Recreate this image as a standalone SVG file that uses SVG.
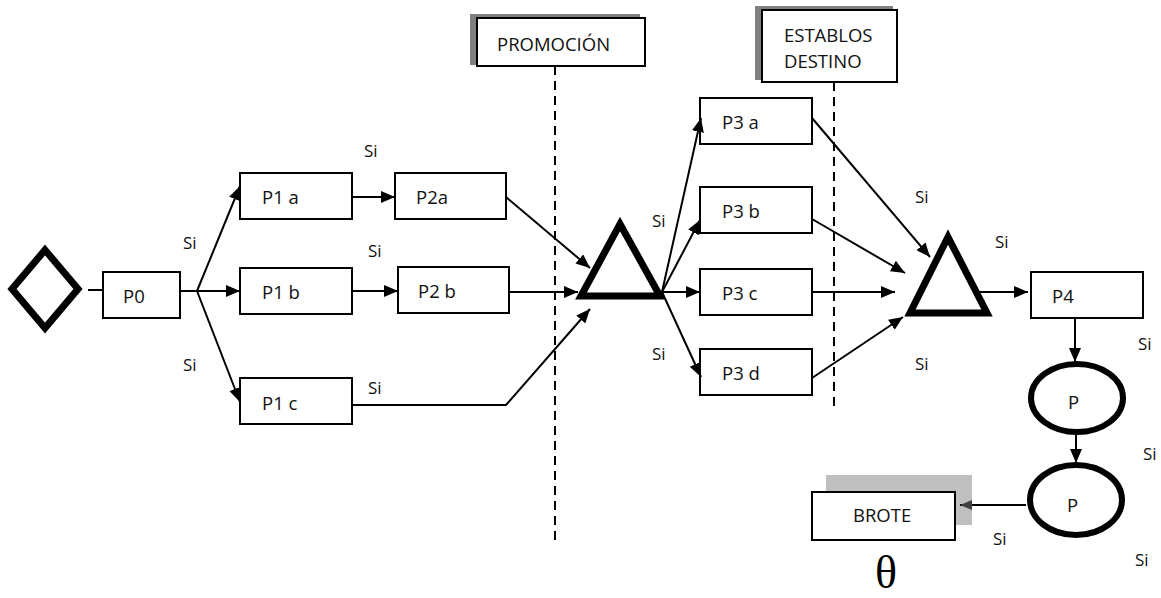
<svg xmlns="http://www.w3.org/2000/svg" width="1161" height="598" viewBox="0 0 1161 598">
  <style>
    .box { fill: #ffffff; stroke: #000000; stroke-width: 2; }
    .heavy { fill: #ffffff; stroke: #000000; stroke-width: 7; stroke-linejoin: miter; }
    .lbl { font-family: "Open Sans", "Liberation Sans", sans-serif; font-size: 18.5px; fill: #111111; }
    .si { font-family: "Open Sans", "Liberation Sans", sans-serif; font-size: 17px; fill: #111111; }
    .edge { fill: none; stroke: #000000; stroke-width: 2; }
    .arrow { marker-end: url(#head); }
    .divider { fill: none; stroke: #000000; stroke-width: 2; stroke-dasharray: 9 6; }
  </style>
  <defs>
    <marker id="head" markerUnits="userSpaceOnUse" markerWidth="14" markerHeight="12" refX="14" refY="6" orient="auto">
      <path d="M0,0 L14,6 L0,12 z" fill="#000000"/>
    </marker>
    <marker id="headGrey" markerUnits="userSpaceOnUse" markerWidth="12" markerHeight="10" refX="12" refY="5" orient="auto">
      <path d="M0,0 L12,5 L0,10 z" fill="#404040"/>
    </marker>
  </defs>
  <rect width="1161" height="598" fill="#ffffff"/>

  <!-- stage dividers -->
  <g id="dividers">
    <line class="divider" x1="555" y1="66" x2="555" y2="545"/>
    <line class="divider" x1="834" y1="82" x2="834" y2="410"/>
  </g>

  <!-- start -->
  <g id="start">
    <polygon class="heavy" points="45,250 78,289 45,328 12,289"/>
  </g>

  <g id="p0">
    <rect class="box" x="103" y="272" width="77" height="46"/>
    <text class="lbl" x="123" y="303">P0</text>
  </g>
  <g id="p1a">
    <rect class="box" x="240" y="173" width="112" height="46"/>
    <text class="lbl" x="262" y="204">P1 a</text>
  </g>
  <g id="p2a">
    <rect class="box" x="395" y="173" width="111" height="46"/>
    <text class="lbl" x="416" y="204">P2a</text>
  </g>
  <g id="p1b">
    <rect class="box" x="240" y="268" width="112" height="46"/>
    <text class="lbl" x="262" y="299">P1 b</text>
  </g>
  <g id="p2b">
    <rect class="box" x="398" y="267" width="111" height="46"/>
    <text class="lbl" x="418" y="298">P2 b</text>
  </g>
  <g id="p1c">
    <rect class="box" x="240" y="378" width="112" height="46"/>
    <text class="lbl" x="262" y="410">P1 c</text>
  </g>

  <g id="gate1">
    <polygon class="heavy" points="620,224 660,296 581,296"/>
  </g>

  <g id="p3a">
    <rect class="box" x="700" y="98" width="112" height="46"/>
    <text class="lbl" x="722" y="129">P3 a</text>
  </g>
  <g id="p3b">
    <rect class="box" x="700" y="187" width="112" height="46"/>
    <text class="lbl" x="722" y="218">P3 b</text>
  </g>
  <g id="p3c">
    <rect class="box" x="700" y="269" width="112" height="46"/>
    <text class="lbl" x="722" y="300">P3 c</text>
  </g>
  <g id="p3d">
    <rect class="box" x="700" y="349" width="112" height="46"/>
    <text class="lbl" x="722" y="380">P3 d</text>
  </g>

  <g id="gate2">
    <polygon class="heavy" points="948,237 987,313 910,313" stroke-width="8"/>
  </g>

  <g id="p4">
    <rect class="box" x="1031" y="272" width="112" height="46"/>
    <text class="lbl" x="1052" y="303">P4</text>
  </g>

  <g id="prob1">
    <ellipse cx="1077" cy="398" rx="46" ry="34" fill="#ffffff" stroke="#000000" stroke-width="6"/>
    <text class="lbl" x="1068" y="409">P</text>
  </g>
  <g id="prob2">
    <ellipse cx="1076" cy="500" rx="46" ry="35" fill="#ffffff" stroke="#000000" stroke-width="6"/>
    <text class="lbl" x="1067" y="512">P</text>
  </g>

  <g id="promocion">
    <rect x="470" y="14" width="170" height="51" fill="#808080"/>
    <rect class="box" x="477" y="18" width="168" height="48"/>
    <text class="lbl" x="497" y="51">PROMOCIÓN</text>
  </g>

  <g id="establos">
    <rect x="755" y="6" width="138" height="74" fill="#808080"/>
    <rect class="box" x="762" y="10" width="135" height="72"/>
    <text class="lbl" x="784" y="42">ESTABLOS</text>
    <text class="lbl" x="784" y="68">DESTINO</text>
  </g>

  <g id="brote">
    <rect x="826" y="475" width="146" height="50" fill="#bfbfbf"/>
    <rect class="box" x="812" y="492" width="143" height="48"/>
    <text class="lbl" x="853" y="522">BROTE</text>
    <text x="886" y="588" font-family="Liberation Serif, serif" font-size="46" text-anchor="middle" fill="#000000">θ</text>
  </g>

  <!-- connectors (drawn over the shaded panels) -->
  <g id="connectors">
    <line class="edge" x1="88" y1="290" x2="102" y2="290"/>
    <line class="edge" x1="180" y1="291" x2="197" y2="291"/>
    <line class="edge arrow" x1="197" y1="291" x2="240" y2="186"/>
    <line class="edge arrow" x1="197" y1="291" x2="240" y2="291"/>
    <line class="edge arrow" x1="197" y1="291" x2="240" y2="402"/>
    <line class="edge arrow" x1="352" y1="197" x2="395" y2="197"/>
    <line class="edge arrow" x1="352" y1="291" x2="398" y2="291"/>
    <line class="edge arrow" x1="506" y1="197" x2="590" y2="268"/>
    <line class="edge arrow" x1="509" y1="292" x2="578" y2="292"/>
    <polyline class="edge arrow" points="352,405 506,405 590,309"/>
    <line class="edge arrow" x1="662" y1="292" x2="701" y2="118"/>
    <line class="edge arrow" x1="662" y1="292" x2="700" y2="220"/>
    <line class="edge arrow" x1="662" y1="292" x2="700" y2="292"/>
    <line class="edge arrow" x1="662" y1="292" x2="701" y2="377"/>
    <line class="edge arrow" x1="812" y1="118" x2="930" y2="257"/>
    <line class="edge arrow" x1="812" y1="219" x2="905" y2="273"/>
    <line class="edge arrow" x1="812" y1="292" x2="895" y2="292"/>
    <line class="edge arrow" x1="812" y1="378" x2="903" y2="317"/>
    <line class="edge arrow" x1="978" y1="292" x2="1028" y2="292"/>
    <line class="edge arrow" x1="1075" y1="318" x2="1075" y2="362"/>
    <line class="edge arrow" x1="1076" y1="435" x2="1076" y2="463"/>
    <line class="edge" x1="1026" y1="505" x2="960" y2="505" marker-end="url(#headGrey)"/>
  </g>

  <!-- branch labels -->
  <g id="labels">
    <text class="si" x="364" y="157">Si</text>
    <text class="si" x="183" y="249">Si</text>
    <text class="si" x="368" y="257">Si</text>
    <text class="si" x="183" y="371">Si</text>
    <text class="si" x="368" y="394">Si</text>
    <text class="si" x="652" y="227">Si</text>
    <text class="si" x="652" y="360">Si</text>
    <text class="si" x="915" y="203">Si</text>
    <text class="si" x="995" y="248">Si</text>
    <text class="si" x="915" y="370">Si</text>
    <text class="si" x="1138" y="350">Si</text>
    <text class="si" x="1143" y="460">Si</text>
    <text class="si" x="993" y="545">Si</text>
    <text class="si" x="1135" y="566">Si</text>
  </g>
</svg>
